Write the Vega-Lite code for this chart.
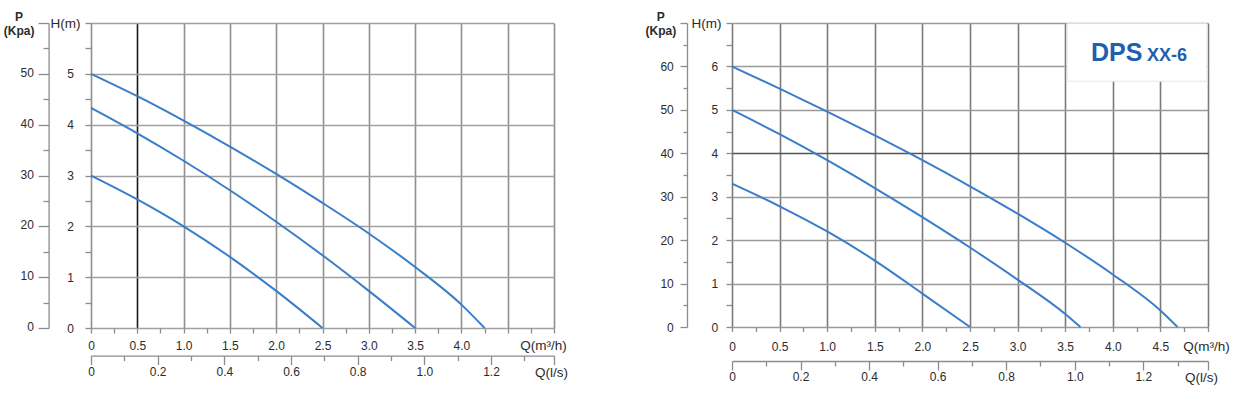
{
  "$schema": "https://vega.github.io/schema/vega-lite/v6.json",
  "padding": {"left": 3, "top": 10, "right": 4, "bottom": 4},
  "bounds": "flush",
  "spacing": 178,
  "datasets": {
    "left": [
      {"curve": "A", "Q": 0, "H": 5.0}, {"curve": "A", "Q": 0.5, "H": 4.56}, {"curve": "A", "Q": 1.0, "H": 4.08},
      {"curve": "A", "Q": 1.5, "H": 3.57}, {"curve": "A", "Q": 2.0, "H": 3.03}, {"curve": "A", "Q": 2.5, "H": 2.46},
      {"curve": "A", "Q": 3.0, "H": 1.86}, {"curve": "A", "Q": 3.5, "H": 1.2}, {"curve": "A", "Q": 4.0, "H": 0.46},
      {"curve": "A", "Q": 4.25, "H": 0},
      {"curve": "B", "Q": 0, "H": 4.33}, {"curve": "B", "Q": 0.5, "H": 3.83}, {"curve": "B", "Q": 1.0, "H": 3.29},
      {"curve": "B", "Q": 1.5, "H": 2.71}, {"curve": "B", "Q": 2.0, "H": 2.09}, {"curve": "B", "Q": 2.5, "H": 1.43},
      {"curve": "B", "Q": 3.0, "H": 0.73}, {"curve": "B", "Q": 3.5, "H": 0},
      {"curve": "C", "Q": 0, "H": 3.0}, {"curve": "C", "Q": 0.5, "H": 2.53}, {"curve": "C", "Q": 1.0, "H": 2.0},
      {"curve": "C", "Q": 1.5, "H": 1.4}, {"curve": "C", "Q": 2.0, "H": 0.73}, {"curve": "C", "Q": 2.5, "H": 0}
    ],
    "right": [
      {"curve": "A", "Q": 0, "H": 6.0}, {"curve": "A", "Q": 0.5, "H": 5.49}, {"curve": "A", "Q": 1.0, "H": 4.96},
      {"curve": "A", "Q": 1.5, "H": 4.41}, {"curve": "A", "Q": 2.0, "H": 3.84}, {"curve": "A", "Q": 2.5, "H": 3.24},
      {"curve": "A", "Q": 3.0, "H": 2.61}, {"curve": "A", "Q": 3.5, "H": 1.94}, {"curve": "A", "Q": 4.0, "H": 1.21},
      {"curve": "A", "Q": 4.5, "H": 0.38}, {"curve": "A", "Q": 4.68, "H": 0},
      {"curve": "B", "Q": 0, "H": 5.0}, {"curve": "B", "Q": 0.5, "H": 4.44}, {"curve": "B", "Q": 1.0, "H": 3.84},
      {"curve": "B", "Q": 1.5, "H": 3.2}, {"curve": "B", "Q": 2.0, "H": 2.53}, {"curve": "B", "Q": 2.5, "H": 1.83},
      {"curve": "B", "Q": 3.0, "H": 1.09}, {"curve": "B", "Q": 3.5, "H": 0.3}, {"curve": "B", "Q": 3.66, "H": 0},
      {"curve": "C", "Q": 0, "H": 3.3}, {"curve": "C", "Q": 0.5, "H": 2.78}, {"curve": "C", "Q": 1.0, "H": 2.2},
      {"curve": "C", "Q": 1.5, "H": 1.53}, {"curve": "C", "Q": 2.0, "H": 0.77}, {"curve": "C", "Q": 2.5, "H": 0}
    ]
  },
  "hconcat": [
    {
      "width": 463,
      "height": 305,
      "data": {"name": "left"},
      "layer": [
        {
          "transform": [{"filter": "datum.curve === 'A'"}],
          "mark": {"type": "line", "interpolate": "monotone", "color": "#3a7dc9", "strokeWidth": 2},
          "encoding": {
            "x": {"field": "Q", "type": "quantitative", "scale": {"domain": [0, 5], "nice": false, "zero": false},
              "axis": {"orient": "bottom", "values": [0,0.25,0.5,0.75,1,1.25,1.5,1.75,2,2.25,2.5,2.75,3,3.25,3.5,3.75,4,4.25,4.5,4.75,5],
                "grid": true,
                "gridOpacity": {"condition": {"test": "datum.value % 0.5 === 0", "value": 1}, "value": 0},
                "gridColor": {"condition": {"test": "datum.value === 0.5", "value": "#1a1a1a"}, "value": "#8f8f8f"},
                "domain": false, "tickSize": 5, "labelPadding": 7,
                "labelExpr": "datum.value === 0 ? '0' : (datum.value % 0.5 === 0 && datum.value <= 4 ? format(datum.value, '.1f') : '')",
                "title": "Q(m³/h)", "titleX": 452, "titleY": 17, "titleAlign": "center", "titleBaseline": "middle"}},
            "y": {"field": "H", "type": "quantitative", "scale": {"domain": [0, 6], "nice": false},
              "axis": {"orient": "left", "values": [0,0.5,1,1.5,2,2.5,3,3.5,4,4.5,5,5.5,6],
                "grid": true,
                "gridOpacity": {"condition": {"test": "datum.value % 1 === 0", "value": 1}, "value": 0},
                "domain": false, "tickSize": 6, "labelPadding": 11.5,
                "labelExpr": "datum.value % 1 === 0 && datum.value <= 5 ? format(datum.value, 'd') : ''",
                "title": "H(m)", "titleAngle": 0, "titleX": -26, "titleY": 0, "titleAlign": "center", "titleBaseline": "middle"}}
          }
        },
        {
          "transform": [{"filter": "datum.curve === 'B'"}],
          "mark": {"type": "line", "interpolate": "monotone", "color": "#3a7dc9", "strokeWidth": 2},
          "encoding": {
            "x": {"field": "Q", "type": "quantitative", "scale": {"domain": [0, 5], "nice": false, "zero": false},
              "axis": {"orient": "bottom", "offset": 27.6, "values": [0,0.72,1.44,2.16,2.88,3.6,4.32,5],
                "domain": true, "tickSize": 9, "labelPadding": 2.2,
                "labelExpr": "datum.value >= 5 ? '' : (datum.value === 0 ? '0' : format(datum.value / 3.6, '.1f'))",
                "title": "Q(l/s)", "titleX": 460, "titleY": 17, "titleAlign": "center", "titleBaseline": "middle"}},
            "y": {"field": "H", "type": "quantitative", "scale": {"domain": [0, 6], "nice": false},
              "axis": {"orient": "left", "offset": 42.4, "values": [0,1,2,3,4,5,6],
                "domain": true, "tickSize": 10.5, "labelPadding": 4.7, "labelOffset": -1.5,
                "labelExpr": "datum.value <= 5 ? format(datum.value * 10, 'd') : ''",
                "title": ["P", "(Kpa)"], "titleAngle": 0, "titleX": -30, "titleY": -2.5, "titleAlign": "center",
                "titleBaseline": "alphabetic", "titleLineHeight": 14, "titleFontWeight": "bold", "titleFontSize": 12}}
          }
        },
        {
          "transform": [{"filter": "datum.curve === 'C'"}],
          "mark": {"type": "line", "interpolate": "monotone", "color": "#3a7dc9", "strokeWidth": 2},
          "encoding": {
            "x": {"field": "Q", "type": "quantitative", "scale": {"domain": [0, 5], "nice": false, "zero": false},
              "axis": {"orient": "bottom", "offset": 27.6, "values": [0.36,1.08,1.8,2.52,3.24,3.96,4.68],
                "domain": false, "tickSize": 5, "labels": false, "title": null}},
            "y": {"field": "H", "type": "quantitative", "scale": {"domain": [0, 6], "nice": false},
              "axis": {"orient": "left", "offset": 42.4, "values": [0.5,1.5,2.5,3.5,4.5,5.5],
                "domain": false, "tickSize": 5.6, "labels": false, "title": null}}
          }
        }
      ],
      "resolve": {"axis": {"x": "independent", "y": "independent"}}
    },
    {
      "width": 476,
      "height": 304,
      "data": {"name": "right"},
      "layer": [
        {
          "transform": [{"filter": "datum.curve === 'A'"}],
          "mark": {"type": "line", "interpolate": "monotone", "color": "#3a7dc9", "strokeWidth": 2},
          "encoding": {
            "x": {"field": "Q", "type": "quantitative", "scale": {"domain": [0, 5], "nice": false, "zero": false},
              "axis": {"orient": "bottom", "values": [0,0.25,0.5,0.75,1,1.25,1.5,1.75,2,2.25,2.5,2.75,3,3.25,3.5,3.75,4,4.25,4.5,4.75,5],
                "grid": true,
                "gridOpacity": {"condition": {"test": "datum.value % 0.5 === 0", "value": 1}, "value": 0},
                "gridColor": "#7a7a7a",
                "domain": false, "tickSize": 4.5, "labelPadding": 10,
                "labelExpr": "datum.value === 0 ? '0' : (datum.value % 0.5 === 0 && datum.value <= 4.5 ? format(datum.value, '.1f') : '')",
                "title": "Q(m³/h)", "titleX": 474, "titleY": 19, "titleAlign": "center", "titleBaseline": "middle"}},
            "y": {"field": "H", "type": "quantitative", "scale": {"domain": [0, 7], "nice": false},
              "axis": {"orient": "left", "values": [0,0.5,1,1.5,2,2.5,3,3.5,4,4.5,5,5.5,6,6.5,7],
                "grid": true,
                "gridOpacity": {"condition": {"test": "datum.value % 1 === 0", "value": 1}, "value": 0},
                "gridColor": {"condition": {"test": "datum.value === 4", "value": "#555555"}, "value": "#9a9a9a"},
                "domain": false, "tickSize": 6, "labelPadding": 8.4,
                "labelExpr": "datum.value % 1 === 0 && datum.value <= 6 ? format(datum.value, 'd') : ''",
                "title": "H(m)", "titleAngle": 0, "titleX": -26, "titleY": 0, "titleAlign": "center", "titleBaseline": "middle"}}
          }
        },
        {
          "transform": [{"filter": "datum.curve === 'B'"}],
          "mark": {"type": "line", "interpolate": "monotone", "color": "#3a7dc9", "strokeWidth": 2},
          "encoding": {
            "x": {"field": "Q", "type": "quantitative", "scale": {"domain": [0, 5], "nice": false, "zero": false},
              "axis": {"orient": "bottom", "offset": 34, "values": [0,0.72,1.44,2.16,2.88,3.6,4.32,5],
                "domain": true, "tickSize": 9, "labelPadding": 1.8,
                "labelExpr": "datum.value >= 5 ? '' : (datum.value === 0 ? '0' : format(datum.value / 3.6, '.1f'))",
                "title": "Q(l/s)", "titleX": 469, "titleY": 16, "titleAlign": "center", "titleBaseline": "middle"}},
            "y": {"field": "H", "type": "quantitative", "scale": {"domain": [0, 7], "nice": false},
              "axis": {"orient": "left", "offset": 45, "values": [0,1,2,3,4,5,6,7],
                "domain": true, "tickSize": 7, "labelPadding": 6.7,
                "labelExpr": "datum.value <= 6 ? format(datum.value * 10, 'd') : ''",
                "title": ["P", "(Kpa)"], "titleAngle": 0, "titleX": -26.7, "titleY": -2.5, "titleAlign": "center",
                "titleBaseline": "alphabetic", "titleLineHeight": 14, "titleFontWeight": "bold", "titleFontSize": 12}}
          }
        },
        {
          "transform": [{"filter": "datum.curve === 'C'"}],
          "mark": {"type": "line", "interpolate": "monotone", "color": "#3a7dc9", "strokeWidth": 2},
          "encoding": {
            "x": {"field": "Q", "type": "quantitative", "scale": {"domain": [0, 5], "nice": false, "zero": false},
              "axis": {"orient": "bottom", "offset": 34, "values": [0.36,1.08,1.8,2.52,3.24,3.96,4.68],
                "domain": false, "tickSize": 5, "labels": false, "title": null}},
            "y": {"field": "H", "type": "quantitative", "scale": {"domain": [0, 7], "nice": false},
              "axis": {"orient": "left", "offset": 45, "values": [0.5,1.5,2.5,3.5,4.5,5.5,6.5],
                "domain": false, "tickSize": 4, "labels": false, "title": null}}
          }
        },
        {
          "data": {"values": [{"box": "DPS XX-6"}]},
          "mark": {"type": "rect", "fill": "white", "stroke": "#e6e6e6", "strokeWidth": 1},
          "encoding": {
            "x": {"datum": 3.52, "type": "quantitative", "scale": {"domain": [0, 5], "nice": false, "zero": false}, "axis": null},
            "x2": {"datum": 4.99},
            "y": {"datum": 5.66, "type": "quantitative", "scale": {"domain": [0, 7], "nice": false}, "axis": null},
            "y2": {"datum": 6.985}
          }
        },
        {
          "data": {"values": [{"t": "DPS"}]},
          "mark": {"type": "text", "font": "Liberation Sans", "fontSize": 25, "fontWeight": "bold", "color": "#1f5fae", "align": "center", "baseline": "alphabetic"},
          "encoding": {
            "x": {"datum": 4.04, "type": "quantitative", "axis": null},
            "y": {"datum": 6.12, "type": "quantitative", "axis": null},
            "text": {"field": "t"}
          }
        },
        {
          "data": {"values": [{"t": "XX-6"}]},
          "mark": {"type": "text", "font": "Liberation Sans", "fontSize": 18, "fontWeight": "bold", "color": "#1f5fae", "align": "center", "baseline": "alphabetic"},
          "encoding": {
            "x": {"datum": 4.57, "type": "quantitative", "axis": null},
            "y": {"datum": 6.12, "type": "quantitative", "axis": null},
            "text": {"field": "t"}
          }
        }
      ],
      "resolve": {"axis": {"x": "independent", "y": "independent"}}
    }
  ],
  "config": {
    "view": {"stroke": null},
    "axis": {
      "labelFont": "Liberation Sans", "labelFontSize": 12, "labelColor": "#2b2b2b",
      "titleFont": "Liberation Sans", "titleFontSize": 13.5, "titleColor": "#2b2b2b", "titleFontWeight": "normal",
      "labelFlush": false, "labelOverlap": false,
      "tickColor": "#8c8c8c", "tickWidth": 1.3, "domainColor": "#8c8c8c", "domainWidth": 1.3,
      "gridColor": "#a0a0a0", "gridWidth": 1.6, "grid": false
    }
  }
}
